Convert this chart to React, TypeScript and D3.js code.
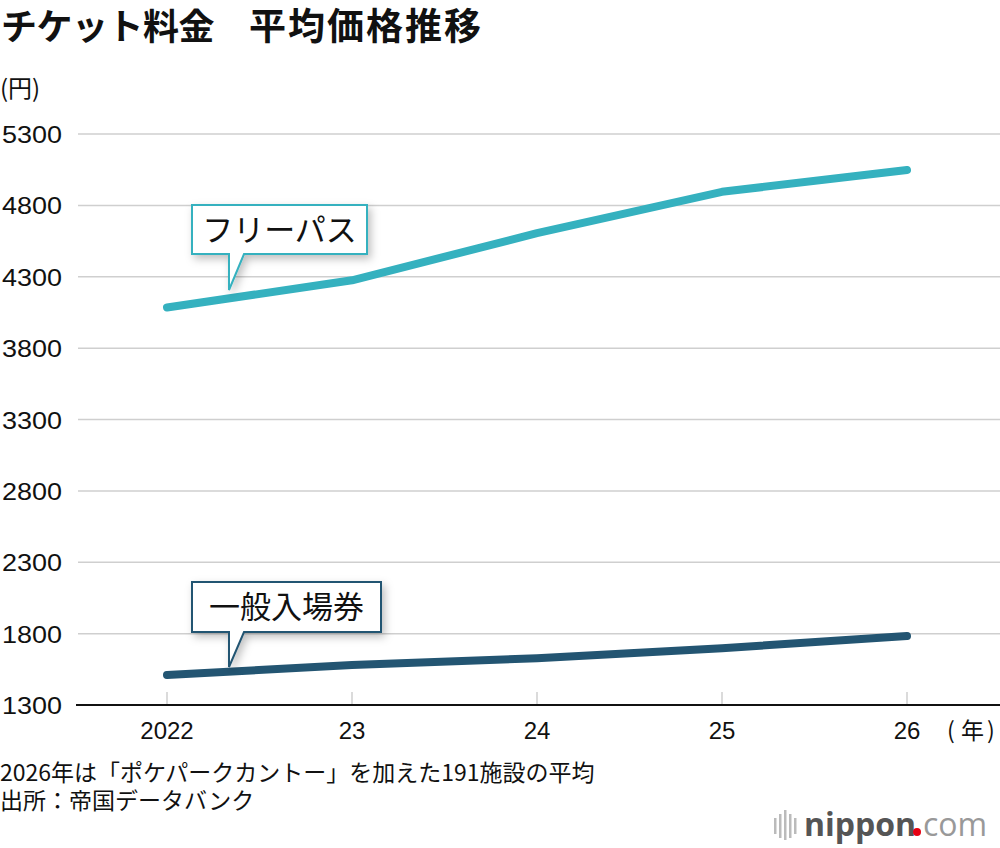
import React from "react";
import * as d3 from "d3";

const years = [2022, 2023, 2024, 2025, 2026];
const yearLabels = ["2022", "23", "24", "25", "26"];
const freePass = [4085, 4275, 4605, 4895, 5048];
const general = [1510, 1580, 1628, 1698, 1783];
const yTicks = [1300, 1800, 2300, 2800, 3300, 3800, 4300, 4800, 5300];

const TEAL = "#35b1bf";
const NAVY = "#235572";
const JP = "'Noto Sans CJK JP', 'Noto Sans', sans-serif";
const NUM = "'Liberation Sans', Arial, 'Noto Sans CJK JP', sans-serif";

export default function App() {
  const W = 1000, H = 848;
  const y = d3.scaleLinear().domain([1300, 5300]).range([705, 134]);
  const x = d3.scaleLinear().domain([2022, 2026]).range([167, 907]);
  const line = d3
    .line<number>()
    .x((_, i) => x(years[i]))
    .y((d) => y(d));

  const callout = (
    bx: number, by: number, bw: number, bh: number,
    tipX: number, tipY: number, pw: number, color: string, label: string
  ) => {
    const path = `M${bx},${by} H${bx + bw} V${by + bh} H${tipX + pw} L${tipX},${tipY} V${by + bh} H${bx} Z`;
    return (
      <g>
        <path d={path} fill="#fff" stroke={color} strokeWidth={2} filter="url(#shadow)" />
        <text x={bx + bw / 2} y={by + bh / 2 + 11} textAnchor="middle" fontFamily={JP} fontSize={31} fill="#111">
          {label}
        </text>
      </g>
    );
  };

  return (
    <svg width={W} height={H} style={{ position: "absolute", left: 0, top: 0, background: "#fff" }}>
      <defs>
        <filter id="shadow" x="-20%" y="-20%" width="150%" height="160%">
          <feDropShadow dx={3} dy={4} stdDeviation={4} floodColor="#000" floodOpacity={0.25} />
        </filter>
      </defs>
      <rect width={W} height={H} fill="#fff" />
      <text x={1} y={40} fontFamily={JP} fontWeight={700} fontSize={36} fill="#111" letterSpacing={-0.5}>
        チケット料金
      </text>
      <text x={249} y={40} fontFamily={JP} fontWeight={700} fontSize={37} fill="#111" letterSpacing={2}>
        平均価格推移
      </text>
      <text x={0} y={97} fontFamily={JP} fontSize={24} fill="#111">(円)</text>

      {yTicks.map((t) => (
        <g key={t}>
          {t !== 1300 && (
            <line x1={78} x2={1000} y1={y(t)} y2={y(t)} stroke="#cfcfcf" strokeWidth={1.5} />
          )}
          <text x={2} y={y(t) + 9} fontFamily={NUM} fontSize={24} fill="#111" textLength={60} lengthAdjust="spacingAndGlyphs">
            {t}
          </text>
        </g>
      ))}
      {years.map((yr, i) => (
        <g key={yr}>
          <line x1={x(yr)} x2={x(yr)} y1={692} y2={705} stroke="#cfcfcf" strokeWidth={1.5} />
          <text x={x(yr)} y={739} textAnchor="middle" fontFamily={NUM} fontSize={24} fill="#111">
            {yearLabels[i]}
          </text>
        </g>
      ))}
      <line x1={76} x2={1000} y1={705} y2={705} stroke="#111" strokeWidth={2} />
      <text y={739} fontFamily={JP} fontSize={23} fill="#111">
        <tspan x={947}>(</tspan>
        <tspan x={961}>年</tspan>
        <tspan x={987}>)</tspan>
      </text>

      <path d={line(freePass) || ""} fill="none" stroke={TEAL} strokeWidth={8} strokeLinecap="round" strokeLinejoin="round" />
      <path d={line(general) || ""} fill="none" stroke={NAVY} strokeWidth={8} strokeLinecap="round" strokeLinejoin="round" />

      {callout(192, 205, 175, 49, 229, 290, 15, TEAL, "フリーパス")}
      {callout(192, 582, 189, 50, 229, 667, 15, NAVY, "一般入場券")}

      <text x={0} y={781} fontFamily={JP} fontSize={23} fill="#111">
        2026年は「ポケパークカントー」を加えた191施設の平均
      </text>
      <text x={0} y={809} fontFamily={JP} fontSize={23} fill="#111">出所：帝国データバンク</text>

      <g>
        {[0, 5, 10, 15, 20].map((dx, i) => (
          <rect key={i} x={774 + dx} y={[818, 814, 810, 814, 818][i]} width={2.5} height={[16, 24, 30, 24, 16][i]} fill="#bbb" />
        ))}
        <text x={804} y={836} fontFamily="'Open Sans', 'Noto Sans', sans-serif" fontSize={32} fontWeight={700} fill="#555">
          nippon
        </text>
        <circle cx={917} cy={832} r={4} fill="#e60012" />
        <text x={923} y={836} fontFamily="'Open Sans', 'Noto Sans', sans-serif" fontSize={32} fontWeight={400} fill="#999">
          com
        </text>
      </g>
    </svg>
  );
}
